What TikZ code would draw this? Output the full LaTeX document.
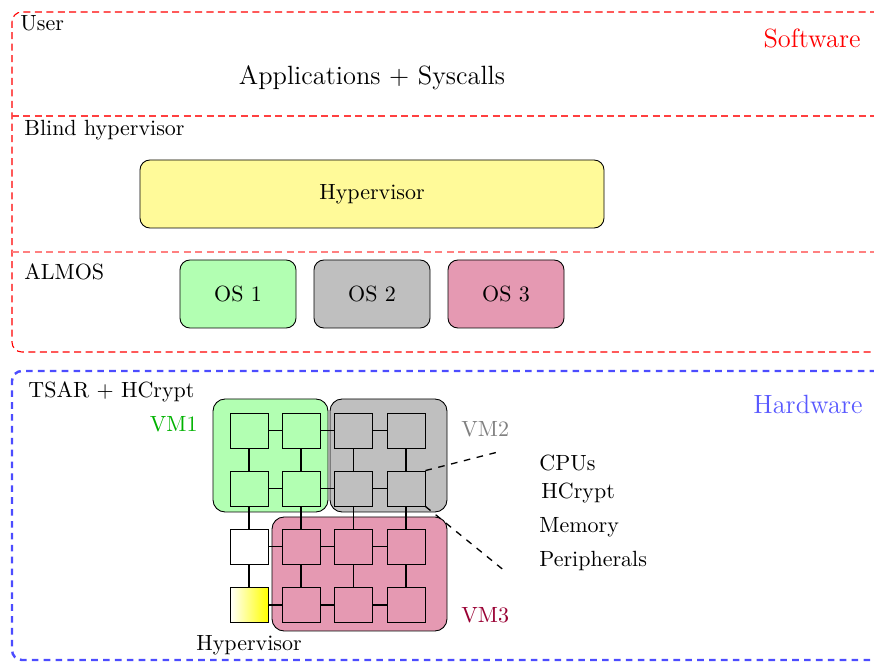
\documentclass[tikz,border=0pt]{standalone}
\usetikzlibrary{positioning}
\begin{document}
\begin{tikzpicture}[x=0.4545pt,y=-0.4545pt,
  lbl/.style={inner sep=0pt, anchor=west},
  rbox/.style={draw=black, rounded corners=4.5pt, inner sep=0pt},
  osbox/.style={rbox, minimum width=116*0.4545pt, minimum height=68*0.4545pt},
  vmreg/.style={draw=black, rounded corners=5.5pt, inner sep=0pt},
  sq/.style={draw=black, inner sep=0pt, minimum width=38*0.4545pt, minimum height=35*0.4545pt},
  link/.style={draw=black, line width=0.75pt},
  swline/.style={red, dash pattern=on 3.2pt off 2pt, line width=0.5pt},
  hwline/.style={blue!70, dash pattern=on 3pt off 2.4pt, line width=1.1pt},
  zoomline/.style={black, dashed, semithick}
]
\clip (0,0) rectangle (874,662);
% Software frame
\draw[swline, rounded corners=4.5pt] (900,12) -- (12,12) -- (12,352) -- (900,352);
\draw[swline, red!75] (12,116) -- (900,116);
\draw[swline, red!50] (12,252) -- (900,252);
% Hardware frame
\draw[hwline, rounded corners=4.5pt] (900,371) -- (12,371) -- (12,660) -- (900,660);

% Software texts
\node[lbl] (user) at (20,23) {User};
\node[inner sep=0pt, anchor=east, text=red, font=\large] (sw) at (861,38) {Software};
\node[inner sep=0pt, font=\large] (apps) at (372,78) {Applications + Syscalls};
\node[lbl] (blind) at (24,130) {Blind hypervisor};
\node[rbox, fill=yellow!40, minimum width=464*0.4545pt, minimum height=68*0.4545pt] (hyp) at (372,194) {Hypervisor};
\node[lbl] (almos) at (24,272) {ALMOS};
\node[osbox, fill=green!30] (os1) at (238,294) {OS 1};
\node[osbox, fill=lightgray] (os2) at (372,294) {OS 2};
\node[osbox, fill=purple!40] (os3) at (506,294) {OS 3};

% Hardware texts
\node[lbl] (tsar) at (28,392) {TSAR + HCrypt};
\node[inner sep=0pt, anchor=east, text=blue!65, font=\large] (hw) at (863,404) {Hardware};

% VM regions
\node[vmreg, fill=green!30, minimum width=115*0.4545pt, minimum height=113*0.4545pt] (vm1) at (270.5,455.5) {};
\node[vmreg, fill=lightgray, minimum width=117*0.4545pt, minimum height=113*0.4545pt] (vm2) at (388.5,455.5) {};
\node[vmreg, fill=purple!40, minimum width=175*0.4545pt, minimum height=114*0.4545pt] (vm3) at (359.5,574) {};

\node[inner sep=0pt, anchor=east, text=green!70!black] (vm1l) at (198,424) {VM1};
\node[lbl, text=gray] (vm2l) at (461,429) {VM2};
\node[lbl, text=purple!80!black] (vm3l) at (461,615) {VM3};

% grid squares
\node[sq, fill=green!30] (s11) at (249,430.5) {};
\node[sq, fill=green!30] (s12) at (301,430.5) {};
\node[sq, fill=lightgray] (s13) at (353.5,430.5) {};
\node[sq, fill=lightgray] (s14) at (406,430.5) {};
\node[sq, fill=green!30] (s21) at (249,488.5) {};
\node[sq, fill=green!30] (s22) at (301,488.5) {};
\node[sq, fill=lightgray] (s23) at (353.5,488.5) {};
\node[sq, fill=lightgray] (s24) at (406,488.5) {};
\node[sq, fill=white] (s31) at (249,546.5) {};
\node[sq, fill=purple!40] (s32) at (301,546.5) {};
\node[sq, fill=purple!40] (s33) at (353.5,546.5) {};
\node[sq, fill=purple!40] (s34) at (406,546.5) {};
\node[sq, left color=white, right color=yellow] (s41) at (249,605) {};
\node[sq, fill=purple!40] (s42) at (301,605) {};
\node[sq, fill=purple!40] (s43) at (353.5,605) {};
\node[sq, fill=purple!40] (s44) at (406,605) {};

% links
\foreach \r in {1,2,3,4}{
  \draw[link] (s\r1) -- (s\r2);
  \draw[link] (s\r2) -- (s\r3);
  \draw[link] (s\r3) -- (s\r4);
}
\foreach \c in {1,2,3,4}{
  \draw[link] (s1\c) -- (s2\c);
  \draw[link] (s2\c) -- (s3\c);
  \draw[link] (s3\c) -- (s4\c);
}

\node[inner sep=0pt] (hypl) at (249,645) {Hypervisor};

% zoom lines and legend
\coordinate (z1) at (502,451);
\coordinate (z2) at (506,572);
\draw[zoomline] (s24.north east) -- (z1);
\draw[zoomline] (s24.south east) -- (z2);
\node[lbl] (cpus) at (539,463) {CPUs};
\node[lbl] (hcr) at (541,493) {HCrypt};
\node[lbl] (mem) at (539,527) {Memory};
\node[lbl] (per) at (539,561) {Peripherals};
\end{tikzpicture}
\end{document}
